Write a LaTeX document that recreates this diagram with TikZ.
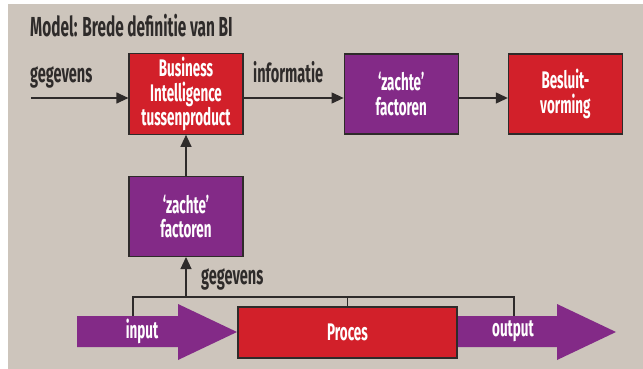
\documentclass[tikz,border=0pt]{standalone}
\usepackage{fontspec}
\setmainfont{Fira Sans}[FakeStretch=0.56]
\usetikzlibrary{positioning,arrows.meta}
\definecolor{achter}{HTML}{CDC5BC}
\definecolor{rood}{HTML}{D2202A}
\definecolor{paars}{HTML}{832A87}
\definecolor{lijn}{HTML}{2E2B2A}
\begin{document}
\begin{tikzpicture}[
        x=1pt, y=-1pt, % pixels, oorsprong linksboven
        blok/.style = {draw=lijn, line width=1.2pt, minimum width=114pt, minimum height=80pt,
                       align=center, text=white, font=\bfseries\fontsize{24}{24.5}\selectfont},
        roodblok/.style = {blok, fill=rood},
        paarsblok/.style = {blok, fill=paars},
        label/.style = {text=lijn, font=\bfseries\fontsize{26}{26}\selectfont, inner sep=0pt},
        pijl/.style = {draw=lijn, line width=1.2pt, -{Triangle[length=12pt,width=11pt]}},
        streep/.style = {draw=lijn, line width=1.2pt},
        dikkepijl/.style = {fill=paars},
    ]
    \useasboundingbox (0,0) rectangle (643,369);
    \fill[achter] (8,4) rectangle (643,369);

    \node[label, anchor=base west, font=\bfseries\fontsize{27.5}{27.5}\selectfont] (titel) at (30,37) {Model: Brede definitie van BI};

    % bovenste rij
    \node[roodblok] (bi) at (186,94) {Business\\Intelligence\\tussenproduct};
    \node[paarsblok, right=100pt of bi] (zacht1) {`zachte'\\factoren};
    \node[roodblok, right=49pt of zacht1] (besluit) {Besluit-\\vorming};
    \node[paarsblok, below=41pt of bi] (zacht2) {`zachte'\\factoren};

    \coordinate (begin) at (31,98);
    \draw[pijl] (begin) -- (begin -| bi.west);
    \draw[pijl] ([yshift=-4pt]bi.east) -- ([yshift=-4pt]zacht1.west);
    \draw[pijl] ([yshift=-4pt]zacht1.east) -- ([yshift=-4pt]besluit.west);
    \draw[pijl] (zacht2) -- (bi);
    \node[label, anchor=base west] (geg1) at (30,83) {gegevens};
    \node[label, anchor=base west] (info) at (253,83) {informatie};

    % onderste rij: proces met input en output
    \node[roodblok, minimum width=219pt, minimum height=51pt] (proces) at (347.5,332.5) {Proces};
    \fill[dikkepijl] (77,316) -- (178,316) -- (178,304) -- (237,332) -- (178,360) -- (178,347) -- (77,347) -- cycle;
    \fill[dikkepijl] (458,316) -- (557,316) -- (557,304) -- (616,332) -- (557,360) -- (557,347) -- (458,347) -- cycle;
    \node[text=white, font=\bfseries\fontsize{24}{24}\selectfont] (input) at (142,331) {input};
    \node[text=white, font=\bfseries\fontsize{24}{24}\selectfont] (output) at (513,331) {output};

    \coordinate (inbovan) at (133,316);
    \coordinate (uitboven) at (514,316);
    \coordinate (hoek1) at (133,297);
    \coordinate (hoek2) at (514,297);
    \draw[streep] (inbovan) -- (hoek1) -- (hoek2) -- (uitboven);
    \draw[streep] (proces.north) -- (proces.north |- hoek1);
    \draw[pijl] (zacht2.south |- hoek1) -- (zacht2.south);
    \node[label, anchor=base west] (geg2) at (201,284) {gegevens};
\end{tikzpicture}
\end{document}
